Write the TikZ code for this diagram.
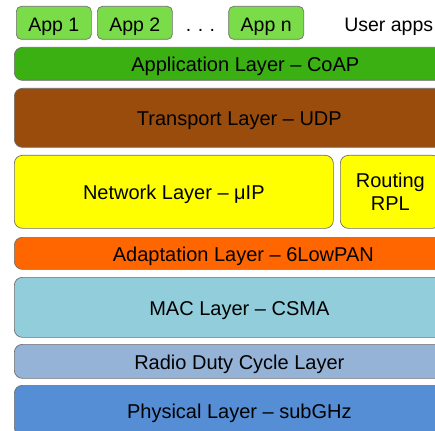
\documentclass[tikz,border=0pt]{standalone}
\usepackage{fontspec}
\setmainfont{Liberation Sans}
\usepackage{tikz}
\usetikzlibrary{positioning}

\definecolor{appgreen}{RGB}{122,220,72}
\definecolor{coapgreen}{RGB}{58,176,18}
\definecolor{udpbrown}{RGB}{153,76,12}
\definecolor{netyellow}{RGB}{255,255,0}
\definecolor{lowpanorange}{RGB}{255,102,0}
\definecolor{macblue}{RGB}{146,205,220}
\definecolor{rdcblue}{RGB}{149,179,215}
\definecolor{phyblue}{RGB}{85,142,213}
\definecolor{edgegray}{RGB}{110,110,110}

\begin{document}
\begin{tikzpicture}[
    x=1pt, y=1pt,
    node distance=7.3pt and 6.3pt,
    every node/.style={font=\fontsize{19.5}{23}\selectfont, text height=18pt, text depth=1.5pt},
    appbox/.style={draw=edgegray, line width=0.7pt, fill=appgreen, rounded corners=5pt,
        minimum width=75pt, minimum height=33pt, inner sep=0pt},
    layerbox/.style={draw=edgegray, line width=0.7pt, rounded corners=8pt,
        font=\fontsize{20}{23}\selectfont, text height=17.5pt,
        minimum width=450pt, inner sep=0pt, text centered}
]
\useasboundingbox (0,0) rectangle (435,-430);
\clip (0,0) rectangle (435,-430);

\node[appbox, anchor=north west] (app1) at (16,-6) {App 1};
\node[appbox, right=5.3pt of app1] (app2) {App 2};
\node[inner sep=0pt, right=13pt of app2] (dots) {.\,\,.\,\,.};
\node[appbox, right=13pt of dots] (appn) {App n};
\node[inner sep=0pt, right=40pt of appn] (user) {User apps};

\node[layerbox, fill=coapgreen, minimum width=462pt, minimum height=33pt, anchor=north west] (coap) at (14,-47) {Application Layer -- CoAP};
\node[layerbox, fill=udpbrown, minimum height=59pt, below=of coap.south west, anchor=north west] (udp) {Transport Layer -- UDP};
\node[layerbox, fill=netyellow, minimum width=319pt, minimum height=73pt,
    below=of udp.south west, anchor=north west] (uip) {Network Layer -- μIP};
\node[layerbox, fill=netyellow, minimum width=100pt, minimum height=73pt, align=center,
    text height=, text depth=, right=of uip] (rpl) {Routing\\RPL};
\node[layerbox, fill=lowpanorange, minimum width=458pt, minimum height=32pt,
    below=8.3pt of uip.south west, anchor=north west] (lowpan) {Adaptation Layer -- 6LowPAN};
\node[layerbox, fill=macblue, minimum height=60pt, below=of lowpan.south west, anchor=north west] (mac) {MAC Layer -- CSMA};
\node[layerbox, fill=rdcblue, minimum height=34pt, below=6.3pt of mac] (rdc) {Radio Duty Cycle Layer};
\node[layerbox, fill=phyblue, minimum height=50pt, below=6.3pt of rdc] (phy) {Physical Layer -- subGHz};
\end{tikzpicture}
\end{document}
